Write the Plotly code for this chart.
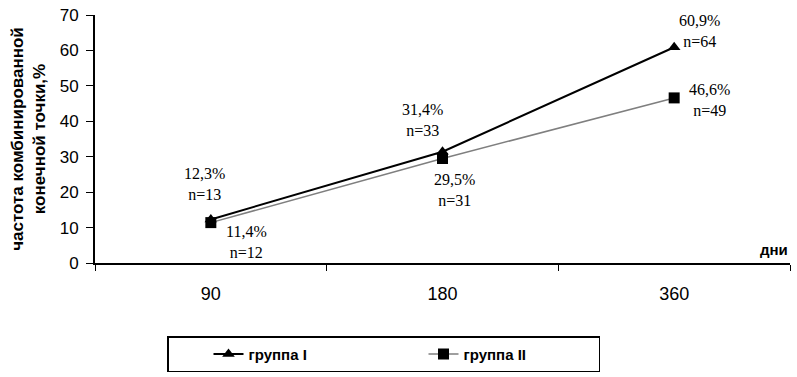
import plotly.graph_objects as go

days = ["90", "180", "360"]
group1 = [12.3, 31.4, 60.9]
group2 = [11.4, 29.5, 46.6]
n1 = [13, 33, 64]
n2 = [12, 31, 49]
name1 = "группа I"
name2 = "группа II"
y_ticks = [0, 10, 20, 30, 40, 50, 60, 70]

fig = go.Figure()
fig.add_trace(go.Scatter(x=days, y=group1, name=name1, mode="lines+markers",
                         line=dict(color="black", width=2),
                         marker=dict(symbol="triangle-up", size=11, color="black")))
fig.add_trace(go.Scatter(x=days, y=group2, name=name2, mode="lines+markers",
                         line=dict(color="#7f7f7f", width=1.5),
                         marker=dict(symbol="square", size=11, color="black")))

def fmt(v):
    return f"{v:.1f}".replace(".", ",") + "%"

shifts1 = [(-6, 35), (-20, 32), (25, 16)]
shifts2 = [(36, -19), (12, -32), (35, -2)]
for i, (v, n, (dx, dy)) in enumerate(zip(group1, n1, shifts1)):
    fig.add_annotation(x=i, y=v, text=f"{fmt(v)}<br>n={n}", showarrow=False,
                       xshift=dx, yshift=dy,
                       font=dict(family="Liberation Serif", size=16, color="black"))
for i, (v, n, (dx, dy)) in enumerate(zip(group2, n2, shifts2)):
    fig.add_annotation(x=i, y=v, text=f"{fmt(v)}<br>n={n}", showarrow=False,
                       xshift=dx, yshift=dy,
                       font=dict(family="Liberation Serif", size=16, color="black"))

fig.add_annotation(x=2.5, y=0, xref="x", yref="y", text="<b>дни</b>", showarrow=False,
                   xanchor="right", yanchor="bottom", yshift=3,
                   font=dict(family="Liberation Sans", size=15, color="black"))

fig.update_layout(
    width=797, height=377,
    margin=dict(l=95, r=7, t=15, b=114, autoexpand=False),
    paper_bgcolor="white", plot_bgcolor="white",
    font=dict(family="Liberation Sans", color="black"),
    xaxis=dict(type="category", range=[-0.5, 2.5], showline=True, linecolor="black", linewidth=2,
               ticks="outside", tickson="boundaries", ticklen=6, tickcolor="black",
               showgrid=False, zeroline=False, ticklabelstandoff=13,
               tickfont=dict(size=18, family="Liberation Sans")),
    yaxis=dict(range=[0, 70], tickvals=y_ticks, showline=True, linecolor="black", linewidth=2,
               ticks="outside", ticklen=7, tickcolor="black", showgrid=False, zeroline=False,
               ticklabelstandoff=4,
               tickfont=dict(size=17, family="Liberation Sans"),
               title=dict(text="<b>частота комбинированной<br>конечной точки,%</b>",
                          font=dict(size=17, family="Liberation Sans"), standoff=10)),
    showlegend=True,
    legend=dict(orientation="h", x=0.1036, xanchor="left",
                y=-0.295, yanchor="top",
                bordercolor="black", borderwidth=1.5, bgcolor="white",
                font=dict(size=15, family="Liberation Sans", weight="bold"),
                indentation=40,
                entrywidth=130, entrywidthmode="pixels"),
)

fig.write_html("out.html", config={"displayModeBar": False},
               post_script="document.body.style.margin='0';")
